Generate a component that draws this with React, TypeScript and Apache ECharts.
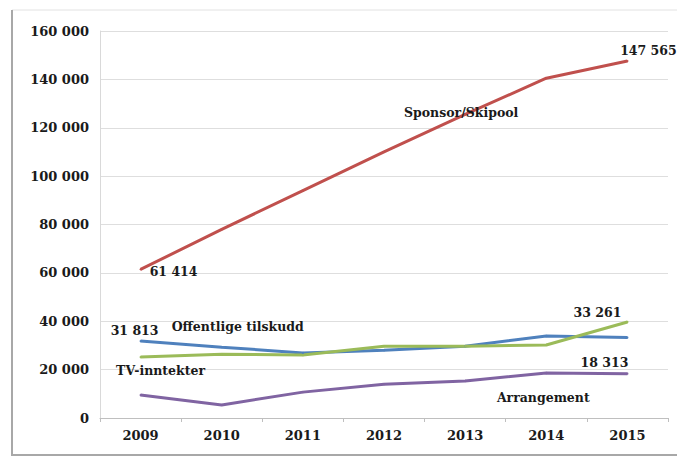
import React, { useEffect, useRef } from "react";
import * as echarts from "echarts";

const years = ["2009", "2010", "2011", "2012", "2013", "2014", "2015"];
const sponsor = [61414, 78000, 94000, 110000, 125500, 140500, 147565];
const offentlige = [31813, 29300, 26900, 28000, 29700, 33900, 33261];
const tv = [25200, 26400, 26000, 29700, 29700, 30200, 39700];
const arrangement = [9500, 5400, 10700, 14000, 15300, 18600, 18313];
const yTicks = { min: 0, max: 160000, interval: 20000 };

const FONT = "DejaVu Serif";
const TXT = "#1a1a1a";

const fmt = (v: number) => {
  const s = Math.round(v).toString();
  return s.replace(/\B(?=(\d{3})+(?!\d))/g, " ");
};

const lbl = (text: string, offset: number[]) => ({
  show: true,
  position: "inside",
  align: "center",
  verticalAlign: "middle",
  offset,
  formatter: text,
  fontFamily: FONT,
  fontWeight: "bold",
  fontSize: 12.5,
  color: TXT,
});

function withLabels(values: number[], labels: Record<number, any>) {
  return values.map((v, i) => (labels[i] ? { value: v, label: labels[i] } : v));
}

export default function App() {
  const ref = useRef<HTMLDivElement>(null);
  useEffect(() => {
    if (!ref.current) return;
    const chart = echarts.init(ref.current, undefined, { renderer: "svg" });
    const lineSeries = (name: string, data: any[], color: string) => ({
      name,
      type: "line",
      data,
      symbol: "circle",
      symbolSize: 2,
      showSymbol: true,
      itemStyle: { color },
      label: { show: false },
      lineStyle: { color, width: 3 },
      emphasis: { disabled: true },
      z: 3,
    });
    chart.setOption({
      animation: false,
      backgroundColor: "#ffffff",
      grid: { left: 100, right: 9, top: 31, bottom: 39, containLabel: false },
      xAxis: {
        type: "category",
        data: years,
        boundaryGap: true,
        axisLine: { show: true, lineStyle: { color: "#bfbfbf", width: 1 } },
        axisTick: { show: true, length: 4, lineStyle: { color: "#bfbfbf" } },
        axisLabel: {
          margin: 11,
          fontFamily: FONT,
          fontWeight: "bold",
          fontSize: 13,
          color: TXT,
        },
        splitLine: { show: false },
      },
      yAxis: {
        type: "value",
        min: yTicks.min,
        max: yTicks.max,
        interval: yTicks.interval,
        axisLine: { show: true, lineStyle: { color: "#d9d9d9" } },
        axisTick: { show: false },
        axisLabel: {
          margin: 11,
          fontFamily: FONT,
          fontWeight: "bold",
          fontSize: 13,
          color: TXT,
          formatter: (v: number) => fmt(v),
        },
        splitLine: { show: true, lineStyle: { color: "#dedede", width: 1 } },
      },
      series: [
        lineSeries(
          "Offentlige tilskudd",
          withLabels(offentlige, {
            0: lbl(fmt(offentlige[0]), [-6, -11]),
            1: lbl("Offentlige tilskudd", [16, -21]),
            6: lbl(fmt(offentlige[6]), [-30, -25]),
          }),
          "#4F81BD"
        ),
        lineSeries(
          "TV-inntekter",
          withLabels(tv, { 0: lbl("TV-inntekter", [20, 13]) }),
          "#9BBB59"
        ),
        lineSeries(
          "Arrangement",
          withLabels(arrangement, {
            5: lbl("Arrangement", [-3, 24]),
            6: lbl(fmt(arrangement[6]), [-23, -11]),
          }),
          "#8064A2"
        ),
        lineSeries(
          "Sponsor/Skipool",
          withLabels(sponsor, {
            0: lbl(fmt(sponsor[0]), [33, 2]),
            4: lbl("Sponsor/Skipool", [-4, -2]),
            6: lbl(fmt(sponsor[6]), [21, -11]),
          }),
          "#C0504D"
        ),
      ],
      graphic: [
        { type: "line", shape: { x1: 12, y1: 10, x2: 677, y2: 10 }, style: { stroke: "#e2e2e2", lineWidth: 1 }, z: 10 },
        { type: "line", shape: { x1: 12, y1: 10, x2: 12, y2: 456 }, style: { stroke: "#a8a8a8", lineWidth: 2 }, z: 10 },
        { type: "line", shape: { x1: 11, y1: 455, x2: 677, y2: 455 }, style: { stroke: "#a8a8a8", lineWidth: 2 }, z: 10 },
      ],
    });
    return () => chart.dispose();
  }, []);
  return (
    <div style={{ position: "fixed", left: 0, top: 0, width: 677, height: 457, background: "#fff" }}>
      <div ref={ref} style={{ width: 677, height: 457 }} />
    </div>
  );
}
